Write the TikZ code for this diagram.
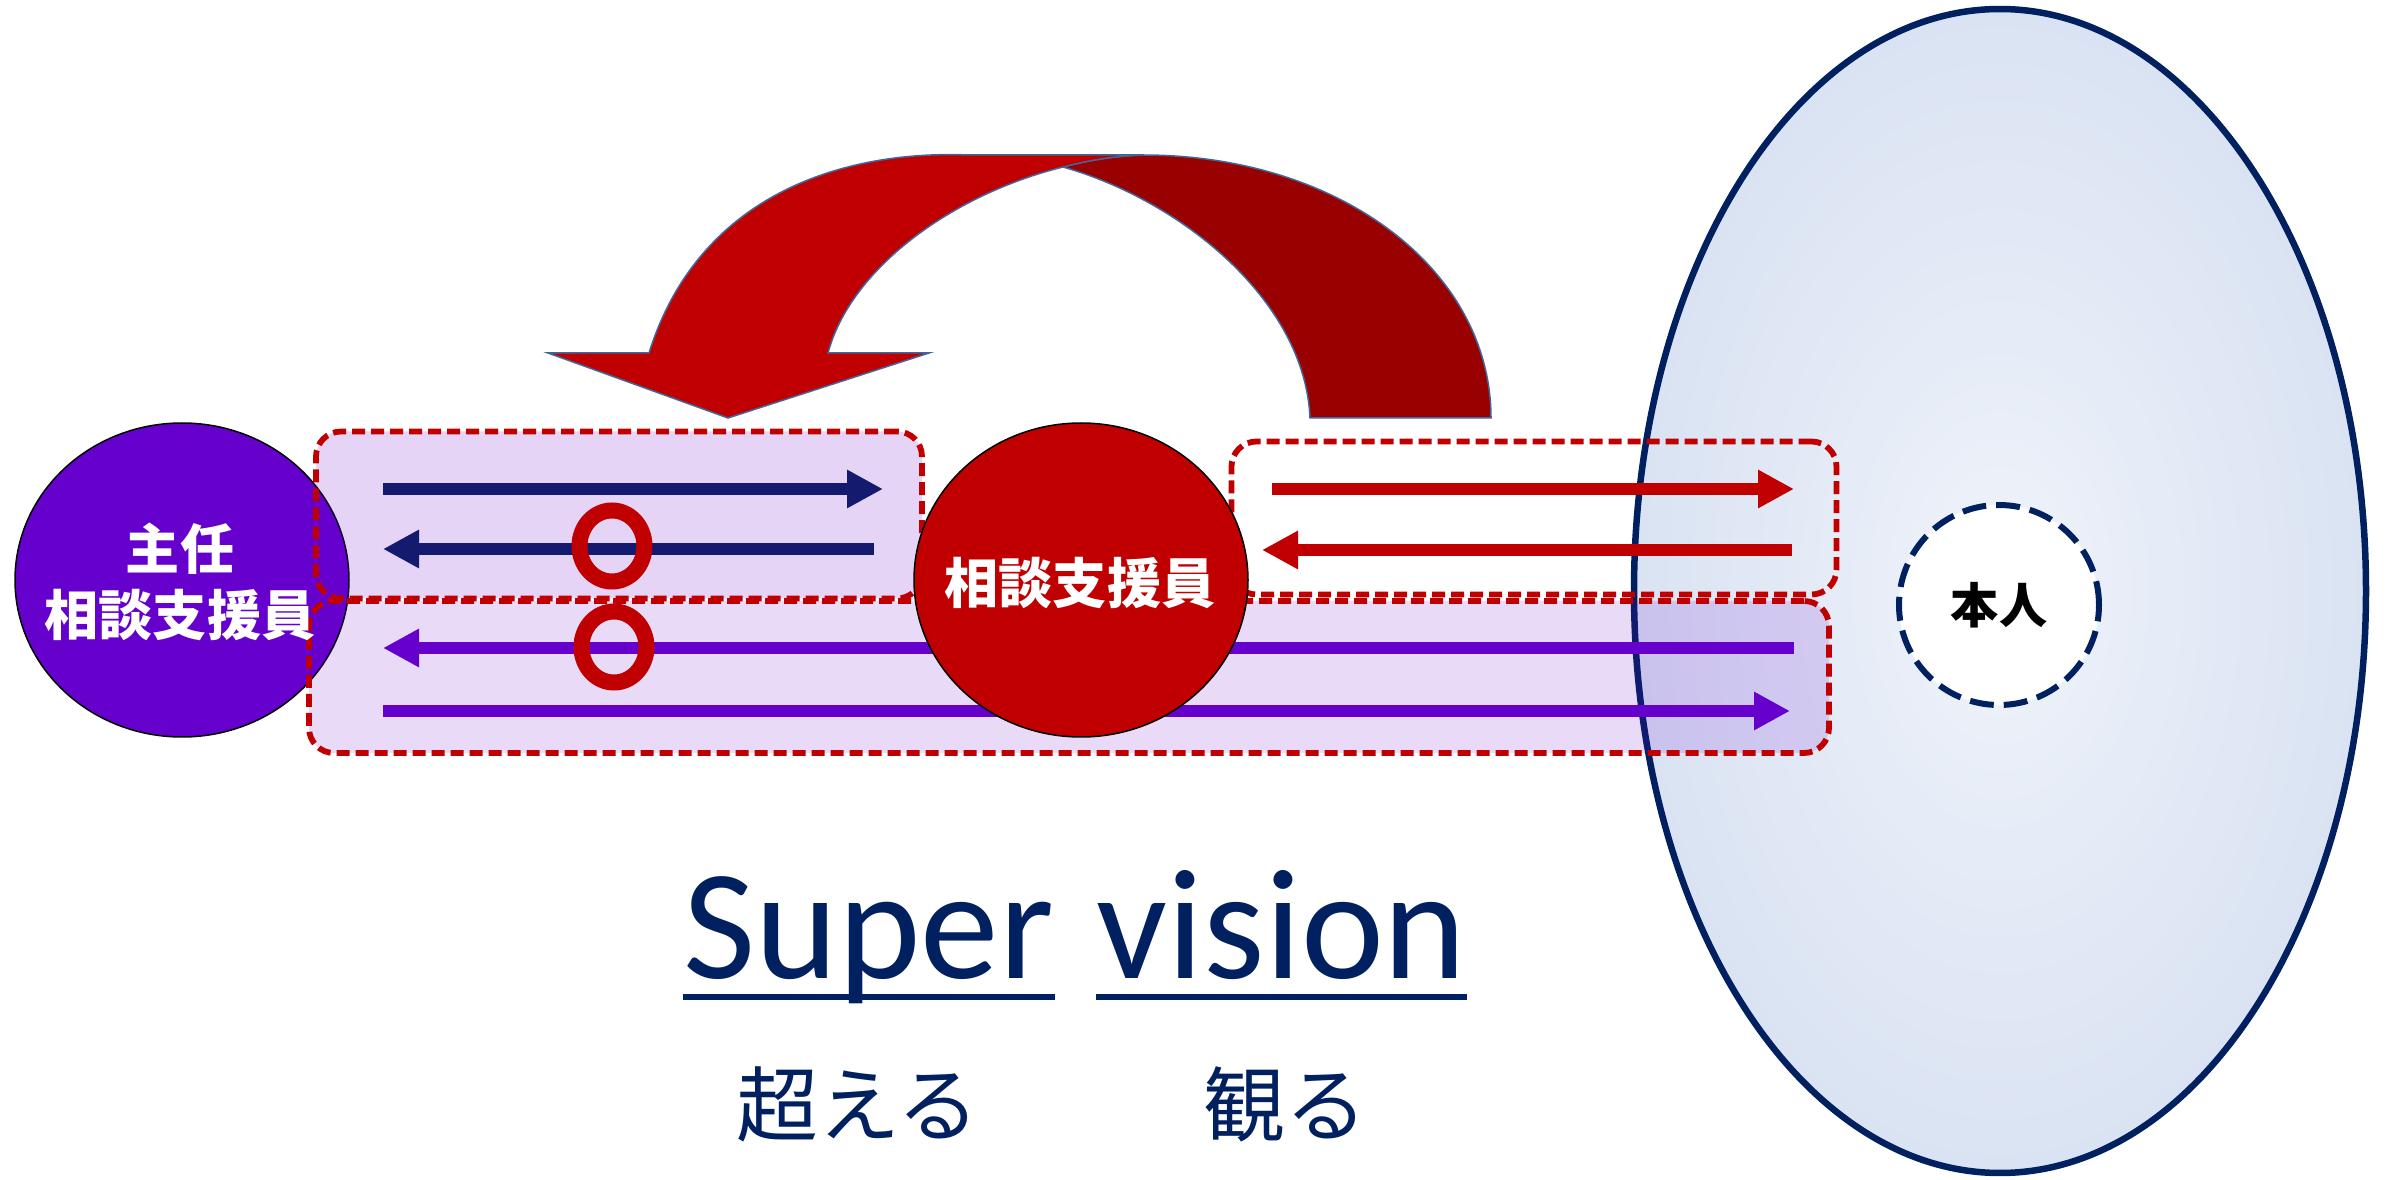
\documentclass[tikz,border=0pt]{standalone}
\usepackage{fontspec}
\setmainfont{Carlito}
\newfontfamily\jpfont{Noto Sans CJK JP}
\usepackage{tikz}
\usetikzlibrary{positioning,arrows.meta,shapes.geometric}

\definecolor{navyT}{HTML}{002060}
\definecolor{navyA}{HTML}{141A6E}
\definecolor{violetA}{HTML}{6600CC}
\definecolor{redA}{HTML}{C00000}
\definecolor{redD}{HTML}{990000}
\definecolor{rimBlue}{HTML}{41669A}
\definecolor{skyIn}{HTML}{EFF3FA}
\definecolor{skyOut}{HTML}{C5D3EC}

\pgfdeclareradialshading{selfshade}{\pgfpoint{0bp}{0bp}}{color(0bp)=(skyIn); color(50bp)=(skyOut)}

\tikzset{
  roleoval/.style={ellipse, draw=black, line width=0.15mm, minimum width=33.4mm, minimum height=31.4mm, inner sep=0pt},
  roletext/.style={text=white, align=center, font=\jpfont\bfseries\fontsize{15.4pt}{18.8pt}\selectfont},
  bandbox/.style={rectangle, draw=redA, line width=0.58mm, dash pattern=on 1.3mm off 0.6mm, rounded corners=2.5mm, inner sep=0pt},
  flow/.style={line width=1.2mm, -{Triangle[length=3.6mm, width=3.6mm]}},
  okring/.style={ellipse, draw=redA, line width=1.6mm, minimum width=6.5mm, minimum height=7.1mm, inner sep=0pt},
  uturn/.style={draw=rimBlue, line width=0.15mm},
  svword/.style={text=navyT, font=\fontsize{44.7pt}{50pt}\selectfont, inner sep=0pt, anchor=base west},
  uline/.style={draw=navyT, line width=0.6mm},
  kana/.style={text=navyT, font=\jpfont\fontsize{23.3pt}{28pt}\selectfont},
}

\begin{document}
\begin{tikzpicture}[x=0.1mm, y=-0.1mm]
  \useasboundingbox (0,0) rectangle (2387,1180);

  % the person and their world
  \node[ellipse, draw=navyT, line width=0.65mm, shading=selfshade, minimum width=73.2mm, minimum height=116.4mm] (field) at (2000,591) {};
  \node[circle, draw=navyT, fill=white, line width=0.6mm, dash pattern=on 2.4mm off 1mm, minimum size=20mm, inner sep=0pt,
        font=\jpfont\bfseries\fontsize{13.7pt}{16pt}\selectfont] (self) at (1999,605) {本人};

  \node[roleoval, fill=violetA] (chief) at (182,580) {};

  % dashed bands
  \node[bandbox, fill=violetA, fill opacity=0.14, minimum width=152mm, minimum height=15.2mm] (low) at (1069,677) {};
  \node[bandbox, fill=violetA, fill opacity=0.17, minimum width=60.6mm, minimum height=16.7mm] (upL) at (619,515) {};
  \node[bandbox, minimum width=60.5mm, minimum height=15.3mm] (upR) at (1534,518) {};

  \coordinate (nvA) at (383,489);  \coordinate (nvB) at (883,489);
  \coordinate (nvC) at (874,549);  \coordinate (nvD) at (383,549);
  \coordinate (vpA) at (1794,648); \coordinate (vpB) at (383,648);
  \coordinate (vpC) at (383,711);  \coordinate (vpD) at (1790,711);
  \coordinate (rdA) at (1272,489); \coordinate (rdB) at (1794,489);
  \coordinate (rdC) at (1792,550); \coordinate (rdD) at (1262,550);

  \draw[flow, navyA] (nvA) -- (nvB);
  \draw[flow, navyA] (nvC) -- (nvD);
  \draw[flow, violetA] (vpA) -- (vpB);
  \draw[flow, violetA] (vpC) -- (vpD);
  \draw[flow, redA] (rdA) -- (rdB);
  \draw[flow, redA] (rdC) -- (rdD);

  \node[okring] (okA) at (612,546) {};
  \node[okring] (okB) at (614,647) {};

  \node[roleoval, fill=redA] (worker) at (1081,580) {};

  \node[roletext] (chieflbl) at (180,582) {主任\\相談支援員};
  \node[roletext] (workerlbl) at (1080,583) {相談支援員};

  % u-turn arrow
  \filldraw[uturn, fill=redD] (1143,155) .. controls (1340,155) and (1491,270) .. (1491,418)
    -- (1310,418) .. controls (1305,300) and (1180,200) .. (1063,167)
    .. controls (1090,160) and (1115,156) .. (1143,155) -- cycle;
  \filldraw[uturn, fill=redA] (929,353) -- (828,353) .. controls (850,270) and (950,195) .. (1063,167)
    .. controls (1090,160) and (1115,156) .. (1143,155) -- (969,155)
    .. controls (850,150) and (700,190) .. (649,353) -- (548,353) -- (728,418) -- cycle;

  % caption
  \node[svword] (super) at (683,978) {Super};
  \node[svword] (vision) at (1096,978) {vision};
  \draw[uline] ([yshift=-1.9mm]super.base west) -- ([yshift=-1.9mm]super.base east);
  \draw[uline] ([yshift=-1.9mm]vision.base west) -- ([yshift=-1.9mm]vision.base east);

  \node[kana] (overjp) at (858,1104) {超える};
  \node[kana] (seejp) at (1285,1104) {観る};
\end{tikzpicture}
\end{document}
